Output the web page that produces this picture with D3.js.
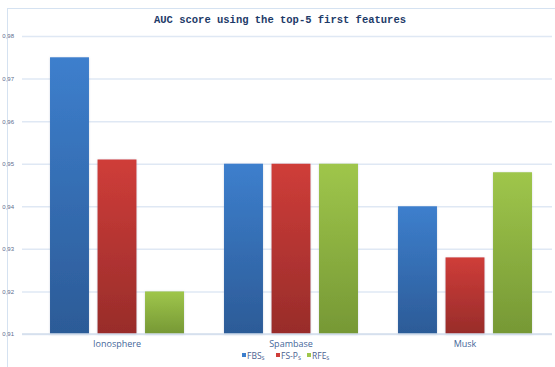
<!DOCTYPE html>
<html>
<head>
<meta charset="utf-8">
<script src="https://cdn.jsdelivr.net/npm/d3@7"></script>
<style>
  html, body { margin: 0; padding: 0; background: #fff; }
  svg { display: block; }
</style>
</head>
<body>
<svg id="chart" width="555" height="367"></svg>
<script>
// AUC scores of the top-5 first features, per dataset and selection method
const datasets = ["Ionosphere", "Spambase", "Musk"];
const methods = ["FBS", "FS-P", "RFE"];
const fbsValues = [0.975, 0.950, 0.940];
const fspValues = [0.951, 0.950, 0.928];
const rfeValues = [0.920, 0.950, 0.948];
const yTicks = [0.91, 0.92, 0.93, 0.94, 0.95, 0.96, 0.97, 0.98];

const seriesValues = [fbsValues, fspValues, rfeValues];
const palette = [
  { top: "#3d7fcd", bottom: "#2c5b97" },
  { top: "#cf3d39", bottom: "#982c2a" },
  { top: "#9fc64b", bottom: "#769835" }
];

const svg = d3.select("#chart");
const W = 555, H = 367;
const margin = { left: 30, right: 3, top: 36, bottom: 33 };

// chart frame
svg.append("rect")
  .attr("x", 7.5).attr("y", 8.5)
  .attr("width", W + 10).attr("height", H + 10)
  .attr("fill", "none").attr("stroke", "#d5e2f1").attr("stroke-width", 1);

const x0 = d3.scaleBand()
  .domain(datasets)
  .range([margin.left, W - margin.right])
  .paddingInner(0.23)
  .paddingOuter(0.115);
const x1 = d3.scaleBand()
  .domain(methods)
  .range([0, x0.bandwidth()])
  .paddingInner(0.18);
const y = d3.scaleLinear()
  .domain([0.91, 0.98])
  .range([H - margin.bottom, margin.top]);

// gradients
const defs = svg.append("defs");
palette.forEach((c, i) => {
  const g = defs.append("linearGradient")
    .attr("id", "grad" + i)
    .attr("x1", 0).attr("y1", 0).attr("x2", 0).attr("y2", 1);
  g.append("stop").attr("offset", "0%").attr("stop-color", c.top);
  g.append("stop").attr("offset", "100%").attr("stop-color", c.bottom);
});
const shadow = defs.append("filter").attr("id", "shadow")
  .attr("x", "-20%").attr("y", "-5%").attr("width", "140%").attr("height", "110%");
shadow.append("feDropShadow")
  .attr("dx", 0).attr("dy", 0.5).attr("stdDeviation", 1.1)
  .attr("flood-color", "#8090a8").attr("flood-opacity", 0.35);

// gridlines
const yAxis = d3.axisLeft(y)
  .tickValues(yTicks)
  .tickSize(-(W - margin.right - margin.left + 8))
  .tickPadding(8)
  .tickFormat(d => d3.format(".2f")(d).replace(".", ","));
const gy = svg.append("g")
  .attr("transform", `translate(${margin.left - 8},0)`)
  .call(yAxis);
gy.select(".domain").remove();
gy.selectAll(".tick line")
  .attr("stroke", "#dfe8f4").attr("stroke-width", 1.5);
gy.selectAll(".tick text")
  .attr("fill", "#5d6d8c")
  .style("font-family", "'Liberation Sans', Arial, sans-serif")
  .style("font-size", "6px");

// bars
const groups = svg.append("g").selectAll("g")
  .data(datasets)
  .join("g")
  .attr("transform", d => `translate(${x0(d)},0)`);

groups.selectAll("rect")
  .data((d, i) => methods.map((m, j) => ({ method: m, idx: j, value: seriesValues[j][i] })))
  .join("rect")
  .attr("x", d => x1(d.method))
  .attr("y", d => y(d.value))
  .attr("width", x1.bandwidth())
  .attr("height", d => y(0.91) - y(d.value))
  .attr("fill", d => `url(#grad${d.idx})`)
  .attr("filter", "url(#shadow)");

// baseline
svg.append("line")
  .attr("x1", margin.left - 8).attr("x2", W - margin.right)
  .attr("y1", y(0.91)).attr("y2", y(0.91))
  .attr("stroke", "#d3deec").attr("stroke-width", 1.5);

// category labels
svg.append("g").selectAll("text")
  .data(datasets)
  .join("text")
  .attr("x", d => x0(d) + x0.bandwidth() / 2)
  .attr("y", y(0.91) + 13)
  .attr("text-anchor", "middle")
  .attr("fill", "#45679a")
  .style("font-family", "'Open Sans', sans-serif")
  .style("font-size", "9px")
  .text(d => d);

// title
svg.append("text")
  .attr("x", 280).attr("y", 23)
  .attr("text-anchor", "middle")
  .attr("fill", "#1d3a68")
  .style("font-family", "'Liberation Mono', 'Courier New', monospace")
  .style("font-weight", "bold")
  .style("font-size", "10.5px")
  .text("AUC score using the top-5 first features");

// legend
const legendX = [242, 276, 307];
const legend = svg.append("g").selectAll("g")
  .data(methods)
  .join("g")
  .attr("transform", (d, i) => `translate(${legendX[i]},356)`);
legend.append("rect")
  .attr("x", 0).attr("y", -3)
  .attr("width", 4).attr("height", 4)
  .attr("fill", (d, i) => palette[i].top);
const lt = legend.append("text")
  .attr("x", 5).attr("y", 2.5)
  .attr("fill", "#4a6190")
  .style("font-family", "'Open Sans', sans-serif")
  .style("font-size", "8.5px");
lt.append("tspan").text(d => d);
lt.append("tspan").attr("dy", 1.5).style("font-size", "5.5px").text("S");
</script>
</body>
</html>
